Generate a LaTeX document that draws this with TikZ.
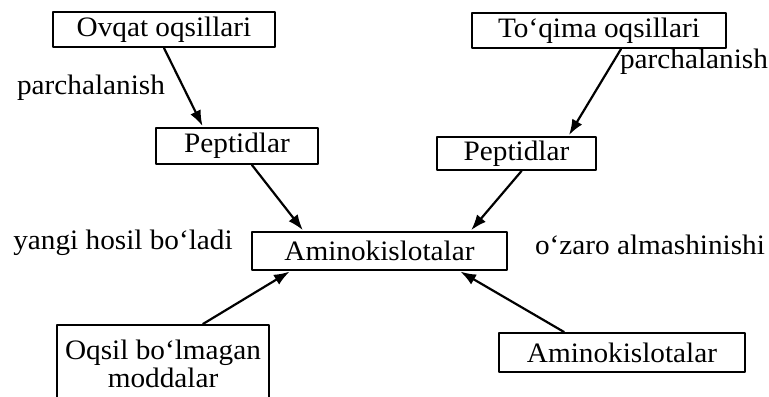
\documentclass[tikz,border=0pt]{standalone}
\usepackage{fontspec}
\setmainfont{Liberation Serif}[FakeStretch=1.04]
\usetikzlibrary{arrows.meta,calc}

\begin{document}
\begin{tikzpicture}[x=0.48pt, y=-0.48pt, >={Latex[length=7.5pt,width=5.5pt]},
    line cap=round, line join=round,
    font=\fontsize{13.5}{13.5}\selectfont,
    box/.style={draw, line width=1pt, inner sep=0pt, align=center},
    flow/.style={->, line width=1.05pt, shorten >=0.5pt}]

  % page frame (reference proportions)
  \useasboundingbox (0,0) rectangle (769,396);

  % source boxes
  \node[box, minimum width=222*0.48pt, minimum height=35*0.48pt] (ovqat) at (164,29.5) {Ovqat oqsillari};
  \node[box, minimum width=254*0.48pt, minimum height=35*0.48pt] (toqima) at (599,30.5) {To‘qima oqsillari};

  % peptides
  \node[box, minimum width=162*0.48pt, minimum height=36*0.48pt] (pepL) at (237,146) {Peptidlar};
  \node[box, minimum width=159*0.48pt, minimum height=33*0.48pt] (pepR) at (516.5,153.5) {Peptidlar};

  % central pool
  \node[box, minimum width=255*0.48pt, minimum height=38*0.48pt] (amino) at (379.5,251) {Aminokislotalar};

  % lower boxes (left one runs off the page bottom)
  \node[box, minimum width=212*0.48pt, minimum height=78*0.48pt] (oqsil) at (163,364) {Oqsil bo‘lmagan\\moddalar};
  \node[box, minimum width=246*0.48pt, minimum height=39*0.48pt] (aminoR) at (622,352.5) {Aminokislotalar};

  % side labels
  \node (parchL) at (91,88) {parchalanish};
  \node (parchR) at (694,62) {parchalanish};
  \node (yangi) at (123,243) {yangi hosil bo‘ladi};
  \node (ozaro) at (650,245) {o‘zaro almashinishi};

  % connectors
  \draw[flow] (ovqat.south) -- ($(pepL.north)+(-34,0)$);
  \draw[flow] ($(toqima.south)+(22,0)$) -- ($(pepR.north)+(52,0)$);
  \draw[flow] ($(pepL.south)+(15,0)$) -- ($(amino.north)+(-76,0)$);
  \draw[flow] ($(pepR.south)+(5,0)$) -- ($(amino.north)+(91,0)$);
  \draw[flow] ($(oqsil.north)+(40,0)$) -- ($(amino.south)+(-89,0)$);
  \draw[flow] ($(aminoR.north)+(-58,0)$) -- ($(amino.south)+(80,0)$);

\end{tikzpicture}
\end{document}
